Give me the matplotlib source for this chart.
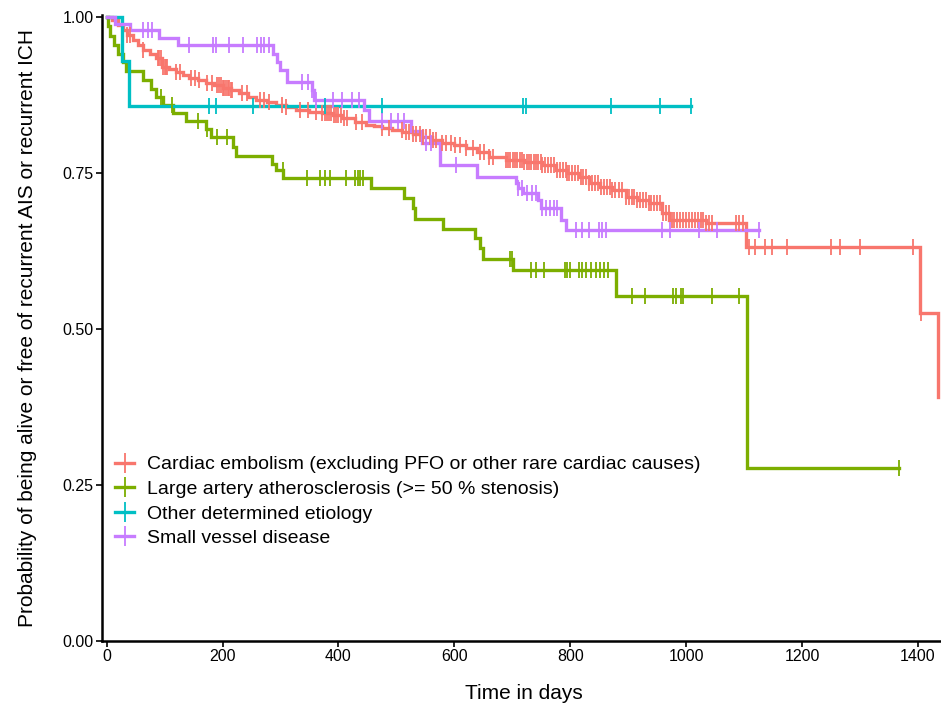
import numpy as np
import matplotlib
matplotlib.use("Agg")
import matplotlib.pyplot as plt
from matplotlib.lines import Line2D

plt.rcParams['font.family'] = ['Liberation Sans', 'DejaVu Sans']

# ---- data (days, survival) ----
labels = ["Cardiac embolism (excluding PFO or other rare cardiac causes)",
          "Large artery atherosclerosis (>= 50 % stenosis)",
          "Other determined etiology",
          "Small vessel disease"]
colors = ["#F8766D", "#7CAE00", "#00BFC4", "#C77CFF"]

ce_time = [0, 10, 20, 28, 36, 45, 54, 62, 74, 86, 95, 108, 120, 132, 143, 158, 172, 186,
           200, 215, 229, 244, 258, 276, 293, 310, 327, 350, 372, 390, 407, 428, 448, 462,
           476, 493, 510, 528, 545, 562, 579, 600, 620, 640, 660, 689, 720, 752, 775, 795,
           815, 833, 852, 873, 896, 915, 936, 959, 971, 1034, 1103, 1404, 1434]
ce_surv = [1.0, 0.995, 0.987, 0.979, 0.971, 0.963, 0.955, 0.947, 0.940, 0.934, 0.920, 0.916,
           0.912, 0.907, 0.902, 0.898, 0.894, 0.890, 0.886, 0.882, 0.878, 0.872, 0.867, 0.863,
           0.859, 0.855, 0.851, 0.848, 0.846, 0.842, 0.838, 0.832, 0.827, 0.825, 0.822, 0.819,
           0.816, 0.812, 0.808, 0.803, 0.798, 0.794, 0.790, 0.783, 0.776, 0.771, 0.767, 0.763,
           0.755, 0.750, 0.744, 0.733, 0.728, 0.723, 0.712, 0.706, 0.701, 0.685, 0.675, 0.670,
           0.632, 0.526, 0.391]
ce_cens = [36, 40, 62, 88, 91, 94, 97, 100, 103, 105, 120, 126, 146, 153, 160, 174, 181, 191,
           194, 197, 200, 203, 206, 209, 212, 215, 217, 234, 243, 264, 272, 281, 302, 310, 333,
           348, 362, 372, 376, 380, 384, 388, 392, 396, 400, 405, 410, 414, 431, 440, 476, 488,
           509, 517, 522, 528, 534, 540, 546, 552, 558, 564, 569, 579, 586, 594, 602, 609, 620,
           632, 645, 652, 660, 666, 689, 693, 697, 701, 705, 709, 713, 717, 721, 725, 729, 733,
           737, 741, 745, 749, 752, 757, 762, 767, 772, 777, 782, 787, 793, 795, 798, 803, 808,
           813, 818, 823, 828, 833, 838, 843, 848, 853, 858, 863, 868, 873, 878, 884, 890, 896,
           901, 906, 911, 916, 921, 926, 931, 936, 940, 945, 950, 955, 960, 965, 970, 975, 980,
           985, 990, 995, 1000, 1005, 1010, 1015, 1020, 1025, 1030, 1035, 1040, 1045, 1086,
           1091, 1098, 1109, 1119, 1136, 1148, 1174, 1250, 1265, 1300, 1391, 1406]

la_time = [0, 3, 6, 12, 20, 28, 34, 62, 77, 86, 97, 114, 137, 172, 180, 218, 224, 286, 292,
           305, 456, 514, 528, 532, 580, 635, 645, 650, 702, 879, 1106]
la_surv = [1.0, 0.985, 0.970, 0.955, 0.940, 0.928, 0.914, 0.898, 0.885, 0.872, 0.859, 0.846,
           0.833, 0.820, 0.807, 0.792, 0.777, 0.765, 0.755, 0.741, 0.725, 0.709, 0.693, 0.676,
           0.660, 0.645, 0.629, 0.612, 0.595, 0.553, 0.277]
la_cens = [94, 112, 157, 174, 191, 208, 304, 345, 368, 376, 386, 413, 429, 433, 437, 443, 696,
           700, 732, 741, 755, 791, 795, 800, 816, 821, 828, 836, 844, 852, 859, 866, 907, 929,
           978, 982, 991, 995, 1045, 1092, 1367]

od_time = [0, 26, 38]
od_surv = [1.0, 0.929, 0.857]
od_cens = [176, 188, 253, 376, 476, 719, 723, 871, 955, 1008]

sv_time = [0, 15, 40, 91, 123, 287, 294, 300, 312, 354, 358, 445, 452, 525, 545, 575, 640,
           706, 710, 718, 745, 749, 784, 792]
sv_surv = [1.0, 0.989, 0.979, 0.966, 0.955, 0.940, 0.928, 0.915, 0.896, 0.883, 0.867, 0.851,
           0.833, 0.817, 0.798, 0.763, 0.744, 0.733, 0.725, 0.717, 0.706, 0.693, 0.675, 0.659]
sv_cens = [62, 71, 78, 143, 184, 188, 212, 236, 260, 267, 272, 281, 338, 347, 355, 362, 390,
           407, 424, 436, 476, 491, 502, 514, 552, 560, 603, 710, 717, 726, 734, 741, 752, 758,
           765, 772, 778, 810, 821, 833, 850, 855, 861, 959, 972, 1022, 1054, 1126]

groups = [(ce_time, ce_surv, ce_cens), (la_time, la_surv, la_cens),
          (od_time, od_surv, od_cens), (sv_time, sv_surv, sv_cens)]

fig = plt.figure(figsize=(9.41, 7.12), dpi=100)
ax = fig.add_axes([0.1084, 0.0997, 0.8916, 0.8793])

# step lines first, censor marks on top (like survminer)
for (t, s, c), col in zip(groups, colors):
    t = np.array(t, float)
    s = np.array(s, float)
    end = max(t[-1], max(c))
    ax.plot(np.append(t, end), np.append(s, s[-1]), drawstyle='steps-post',
            color=col, lw=2.4, solid_joinstyle='miter', zorder=2)
for (t, s, c), col in zip(groups, colors):
    t = np.array(t, float)
    s = np.array(s, float)
    c = np.array(c, float)
    cs = s[np.searchsorted(t, c, side='right') - 1]
    ax.plot(c, cs, ls='none', marker='|', ms=11.5, mew=1.3, color=col, zorder=3)

ax.set_xlim(-8, 1440)
ax.set_ylim(0, 1.003)
ax.set_xticks([0, 200, 400, 600, 800, 1000, 1200, 1400])
ax.set_yticks([0, 0.25, 0.5, 0.75, 1.0])
ax.set_yticklabels(["0.00", "0.25", "0.50", "0.75", "1.00"])
for sp in ['top', 'right']:
    ax.spines[sp].set_visible(False)
for sp in ['left', 'bottom']:
    ax.spines[sp].set_linewidth(1.8)
ax.tick_params(direction='out', length=4, width=1.2, labelsize=11.5, pad=2)

ax.set_xlabel("Time in days", fontsize=15)
ax.xaxis.set_label_coords(0.503, -0.068)
ax.xaxis.label.set_va('top')
ax.set_ylabel("Probability of being alive or free of recurrent AIS or recurrent ICH",
              fontsize=15)
ax.yaxis.set_label_coords(-0.078, 0.5)

handles = [Line2D([], [], color=col, lw=2.4, marker='|', ms=14, mew=1.3) for col in colors]
ax.legend(handles, labels, loc='upper left', bbox_to_anchor=(0.0155, 0.296),
          frameon=False, fontsize=14, handlelength=1.0, handletextpad=0.65,
          labelspacing=0.36, borderaxespad=0, borderpad=0)

fig.savefig("out.png", dpi=100)
